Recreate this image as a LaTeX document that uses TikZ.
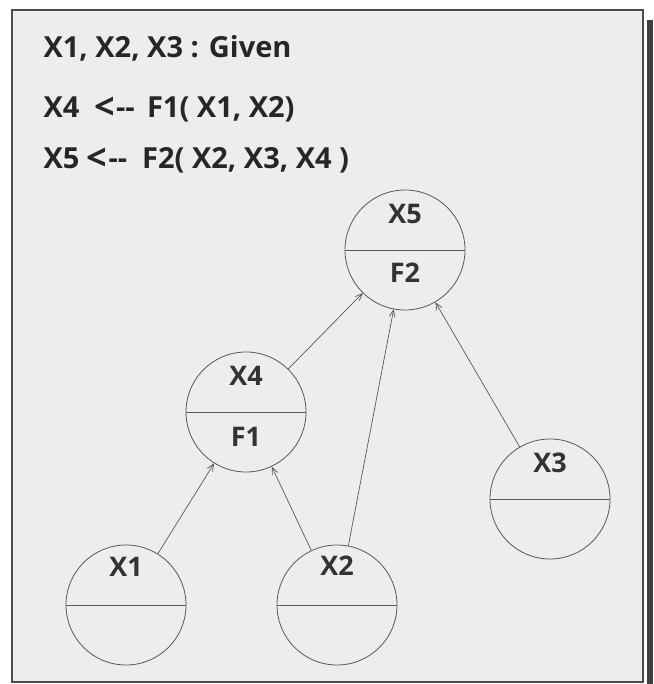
\documentclass[tikz,border=0pt]{standalone}
\usepackage{fontspec}
\setmainfont{Open Sans}
\usetikzlibrary{arrows.meta}
\newcommand{\lt}{\raisebox{-1.5pt}{\fontsize{36}{36}\selectfont <}\kern1pt{-}{-}}
\begin{document}
\begin{tikzpicture}[x=1pt, y=-1pt,
  var/.style={circle, draw=black!65, line width=0.8pt, minimum size=120pt, inner sep=0pt,
              path picture={\draw[black!65, line width=0.8pt] (path picture bounding box.west) -- (path picture bounding box.east);}},
  lbl/.style={font=\fontsize{27}{32}\selectfont\bfseries, text=black!80},
  rule/.style={anchor=base west, font=\fontsize{29}{34}\selectfont\bfseries, text=black!85},
  arr/.style={-{Straight Barb[length=7pt,width=6pt]}, black!65, line width=0.7pt},
]
\useasboundingbox (0,0) rectangle (653,684);
\fill[white] (0,0) rectangle (653,684);
\fill[black!75] (647,20) rectangle (653,684);
\draw[black!70, line width=1.2pt, fill=black!7] (12,10) rectangle (643,682);
% given values and rules
\node[rule] (given) at (40,58)  {X1, X2, X3 : Given};
\node[rule] (rule1) at (40,118) {X4 \ \lt\ \,F1( X1, X2)};
\node[rule] (rule2) at (40,169) {X5 \lt\ \ F2( X2, X3, X4 )};
% variables
\node[var] (x5) at (405,250) {};
\node[var] (x4) at (246,412) {};
\node[var] (x3) at (550,499) {};
\node[var] (x1) at (126,605) {};
\node[var] (x2) at (337,605) {};
\node[lbl] (x5name) at (405,214) {X5}; \node[lbl] (x5fun) at (405,273) {F2};
\node[lbl] (x4name) at (246,376) {X4}; \node[lbl] (x4fun) at (246,437) {F1};
\node[lbl] (x3name) at (550,463) {X3};
\node[lbl] (x1name) at (126,567) {X1};
\node[lbl] (x2name) at (337,566) {X2};
\draw[arr] (x1)--(x4); \draw[arr] (x2)--(x4); \draw[arr] (x2)--(x5);
\draw[arr] (x4)--(x5); \draw[arr] (x3)--(x5);
\end{tikzpicture}
\end{document}
